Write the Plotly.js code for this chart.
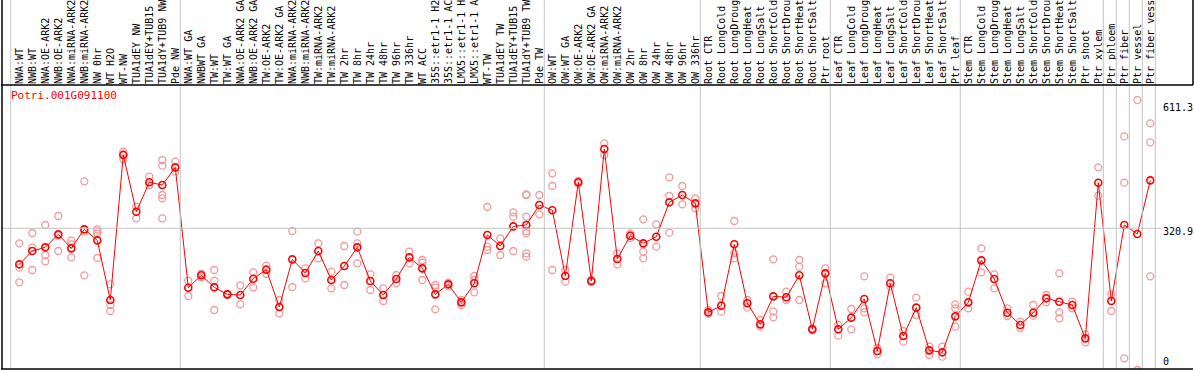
<!DOCTYPE html>
<html><head><meta charset="utf-8">
<script src="https://cdn.plot.ly/plotly-3.0.1.min.js"></script>
<style>html,body{margin:0;padding:0;background:#fff}#chart{width:1194px;height:370px}</style>
</head><body><div id="chart"></div>
<script>
const geneId = "Potri.001G091100";

const categories = [
"NWA:WT","NWB:WT","NWA:OE-ARK2","NWB:OE-ARK2","NWA:miRNA-ARK2","NWB:miRNA-ARK2","NW 0hr","WT H2O","WT-NW","TUA1dEY NW","TUA1dEY+TUB15","TUA1dY+TUB9 NW","Pde NW",
"NWA:WT GA","NWBWT GA","TW:WT","TW:WT GA","NWA:OE-ARK2 GA","NWB:OE-ARK2 GA","TW:OE-ARK2","TW:OE-ARK2 GA","NWA:miRNA-ARK2","NWB:miRNA-ARK2","TW:miRNA-ARK2","TW:miRNA-ARK2",
"TW 2hr","TW 8hr","TW 24hr","TW 48hr","TW 96hr","TW 336hr","WT ACC","35S::etr1-1 H2","35S::etr1-1 AC","LMX5::etr1-1 H","LMX5::etr1-1 A","WT-TW","TUA1dEY TW","TUA1dEY+TUB15","TUA1dY+TUB9 TW","Pde TW",
"OW:WT","OW:WT GA","OW:OE-ARK2","OW:OE-ARK2 GA","OW:miRNA-ARK2","OW:miRNA-ARK2","OW 2hr","OW 8hr","OW 24hr","OW 48hr","OW 96hr","OW 336hr",
"Root CTR","Root LongCold","Root LongDroug","Root LongHeat","Root LongSalt","Root ShortCold","Root ShortDrou","Root ShortHeat","Root ShortSalt","Ptr root",
"Leaf CTR","Leaf LongCold","Leaf LongDroug","Leaf LongHeat","Leaf LongSalt","Leaf ShortCold","Leaf ShortDrou","Leaf ShortHeat","Leaf ShortSalt","Ptr leaf",
"Stem CTR","Stem LongCold","Stem LongDroug","Stem LongHeat","Stem LongSalt","Stem ShortCold","Stem ShortDrou","Stem ShortHeat","Stem ShortSalt","Ptr shoot",
"Ptr xylem","Ptr phloem","Ptr fiber","Ptr vessel","Ptr fiber vess"
];

const means = [
239.3,269.5,277.8,307.2,275.5,318.5,293.6,158.5,486.9,358.5,425.0,418.9,458.9,
186.4,214.4,187.2,171.3,169.8,206.8,227.2,142.7,250.6,219.7,269.5,203.8,
235.5,277.8,201.5,169.8,206.1,255.1,230.2,171.3,194.0,153.2,196.3,305.7,280.8,325.3,328.4,373.6,
361.6,212.9,425.0,201.5,500.5,251.4,304.2,286.8,301.9,379.7,396.3,377.4,
130.6,145.7,284.6,151.0,103.4,166.8,164.6,214.4,92.1,218.9,
92.1,118.5,160.8,43.0,196.3,77.0,141.2,44.5,40.0,121.5,
153.2,248.3,206.1,129.8,101.9,129.8,162.3,154.7,147.2,71.7,
424.2,156.3,328.4,308.0,429.5
];

const replicates = [
[286.8,231.7,198.5],[310.2,277.0,226.4],[328.4,260.4,246.1],[348.7,269.5,305],[292.9,284.6,255.1],[427.2,313.3,214.4],[318.5,313.3,308.7,253.6],[194.0,147.2,133.6],[494.4,477.1,489],[369.9,343.5],[437.8,418.9],[475.5,462.7,396.3,388.7,343.5],[471.8,449.1],
[202.3,167.6],[210,218],[226.4,202.3,135.9],[170,173],[191.7,148.7],[221.2,187.2],[236.3,218],[158.5,128.3],[314.8,188.0],[230.2,207.6],[286.8,252.9],[222.7,184.9],
[280.8,192.5],[313.3,286.8,241.5],[216.6,181.2],[184.9,156.3],[215.1,196.3],[268.0,241.5],[249.1,243.1,203.8],[192.5,186.4,137.4],[190,198],[158.5,147.2],[212.9,203.8,175.9],[369.1,279.3,271.7],[298.2,260.4],[357.0,347.2,269.5],[397.8,396,347.2,314.8,309.5,264.2,256.6],[396.3,352.5],
[445.3,416.7,226.4],[226.4,200.0],[422,428],[199,204],[513.3,486.9],[264.2,239.3],[309.5,299],[341.2,268.0,252.9],[329.9,279.3],[436.3,394.0,311.0],[416.7,375.2],[388.7,366.1],
[135.9,127],[167.6,132.1],[337.4,264.2,252.9],[158.5,141.2],[113.2,98.1],[250.6,132.1,119.3],[177.4,158.5],[249.1,234.0,158.5],[94.4,90],[230.2,196.3],
[101.9,77.7],[138.1,92.1],[212.1,139.6,130.6],[35.5,50],[209.1,188.7],[88.3,64.2],[163.8,124.5],[52.8,34.0],[52.8,30.2],[148.7,139.6,98.1],
[177.4,139.6],[275.5,221.2],[216.6,184.9],[139.6,122.3],[109.5,95],[147.2,123.0],[169.8,153.2],[218.9,130.6,117.0],[139.6,155],[80.8,62.7],
[458.9,394.8],[171.3,133.6],[529.0,424.2,26.4],[611.3,0],[558.6,515.6,212.1]
];

const groupEnds = [12,40,52,62,72,83,84,85,86,87];
const axisTickVals = [611.3, 320.9, 0];
const axisTickText = ["611.3","320.9","0"];

const xRange = [-1.4077, 90.285];
const yRange = [2.26, 645.4];
const topFrac = 1 + 85/284;
const xp = v => (v - xRange[0]) / (xRange[1] - xRange[0]);
const yp = v => (v - yRange[0]) / (yRange[1] - yRange[0]);

const idx = categories.map((_, i) => i);
const repX = [], repY = [];
replicates.forEach((arr, i) => arr.forEach(v => { repX.push(i); repY.push(v); }));

const traces = [
  {x: repX, y: repY, type: 'scatter', mode: 'markers', hoverinfo: 'skip',
   marker: {symbol: 'circle-open', size: 7, color: '#f09a9a', line: {width: 1.3, color: '#f09a9a'}}},
  {x: idx, y: means, type: 'scatter', mode: 'lines+markers',
   line: {color: '#ff0000', width: 1},
   marker: {symbol: 'circle-open', size: 7, color: '#ff0000', line: {width: 1.6, color: '#ff0000'}}}
];

const gray = '#c4c4c4';
const shapes = [];
shapes.push({type: 'line', xref: 'paper', yref: 'paper', x0: xp(-0.66), x1: xp(-0.66), y0: 0, y1: topFrac, line: {color: gray, width: 1}});
groupEnds.forEach(g => {
  const xx = xp(g + 0.385);
  shapes.push({type: 'line', xref: 'paper', yref: 'paper', x0: xx, x1: xx, y0: 0, y1: topFrac, line: {color: gray, width: 1}});
});
shapes.push({type: 'line', xref: 'paper', yref: 'paper', x0: 0, x1: (1161 - 1) / 1192, y0: yp(320.9), y1: yp(320.9), line: {color: gray, width: 1}});
// frame
shapes.push({type: 'line', xref: 'paper', yref: 'paper', x0: 1/1192, x1: 1/1192, y0: 0, y1: topFrac, line: {color: '#000', width: 1.5}});
shapes.push({type: 'line', xref: 'paper', yref: 'paper', x0: 0, x1: 1, y0: 0, y1: 0, line: {color: '#000', width: 1.5}});
shapes.push({type: 'line', xref: 'paper', yref: 'paper', x0: 0, x1: 1, y0: 1, y1: 1, line: {color: '#000', width: 1.5}});
shapes.push({type: 'line', xref: 'paper', yref: 'paper', x0: 1, x1: 1, y0: 1, y1: topFrac, line: {color: '#000', width: 1.5}});

const mono = 'DejaVu Sans Mono, monospace';
const annotations = [
  {text: geneId, xref: 'paper', yref: 'paper', x: (9 - 1) / 1192, y: 1 - 2/284, xanchor: 'left', yanchor: 'top',
   showarrow: false, font: {family: mono, size: 11, color: '#ff0000'}}
];
axisTickVals.forEach((v, k) => {
  const isZero = v === 0;
  annotations.push({text: axisTickText[k], xref: 'paper', yref: 'paper', x: (1161 - 1) / 1192,
    y: isZero ? 0 : yp(v), yshift: isZero ? 0 : (k === 1 ? 4 : 0),
    xanchor: 'left', yanchor: isZero ? 'bottom' : 'top', showarrow: false,
    font: {family: mono, size: 10, color: '#000'}});
});

const layout = {
  width: 1194, height: 370,
  margin: {l: 1, r: 1, t: 85, b: 1, pad: 0},
  paper_bgcolor: '#fff', plot_bgcolor: '#fff',
  showlegend: false,
  xaxis: {range: xRange, side: 'top', tickmode: 'array', tickvals: idx, ticktext: categories,
    tickangle: -90, tickfont: {family: mono, size: 10, color: '#000'}, ticks: '', showgrid: false,
    zeroline: false, showline: false, automargin: false, fixedrange: true},
  yaxis: {range: yRange, showgrid: false, zeroline: false, showline: false, showticklabels: false,
    ticks: '', automargin: false, fixedrange: true},
  shapes: shapes,
  annotations: annotations
};

Plotly.newPlot('chart', traces, layout, {displayModeBar: false, staticPlot: true});
</script>
</body></html>
